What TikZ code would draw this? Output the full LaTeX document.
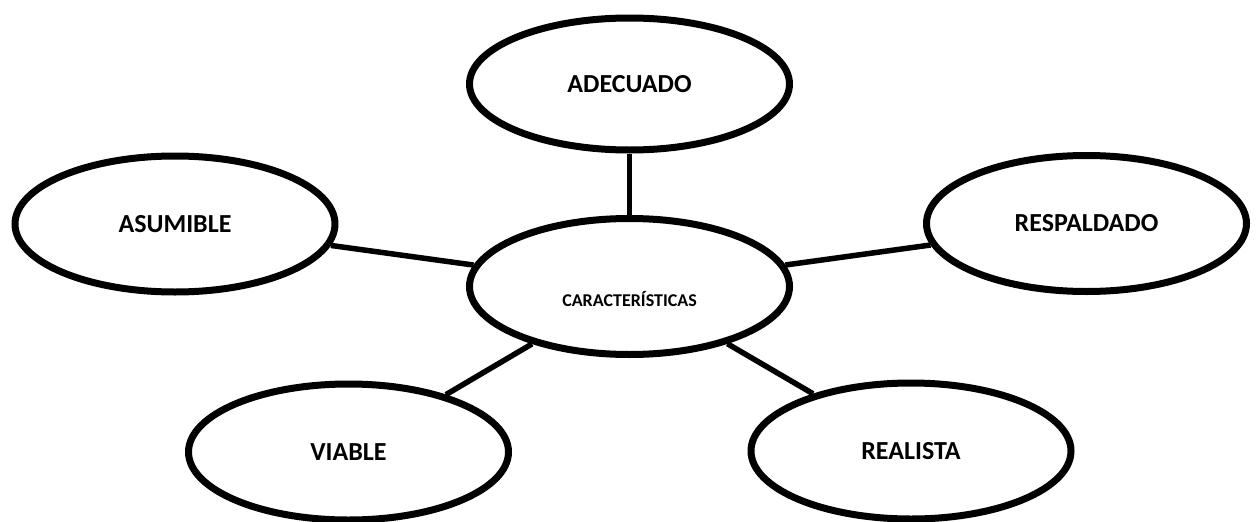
\documentclass[tikz,border=0pt]{standalone}
\usepackage{fontspec}
\setmainfont{Carlito}
\usetikzlibrary{shapes.geometric}
\begin{document}
\begin{tikzpicture}[x=1pt,y=-1pt,
  oval/.style={ellipse,draw=black,fill=white,line width=7pt,minimum width=320pt,minimum height=136pt,inner sep=0pt,font=\fontsize{26}{30}\selectfont\bfseries},
  link/.style={draw=black,line width=5.5pt}]
\useasboundingbox (0,0) rectangle (1256,522);
\node[oval] (c) at (629.5,286.5) {};
\node[font=\fontsize{18}{22}\selectfont\bfseries] (ct) at (629.5,299) {CARACTERÍSTICAS};
\node[oval,minimum height=132pt] (ad) at (629.5,84) {ADECUADO};
\node[oval] (as) at (175,224) {ASUMIBLE};
\node[oval] (re) at (1086.5,223.5) {RESPALDADO};
\node[oval] (vi) at (348.5,452) {VIABLE};
\node[oval] (rl) at (911,451) {REALISTA};
\draw[link] (ad) -- (c);
\draw[link] (as) -- (c);
\draw[link] (re) -- (c);
\draw[link] (vi) -- (c);
\draw[link] (rl) -- (c);
\end{tikzpicture}
\end{document}
